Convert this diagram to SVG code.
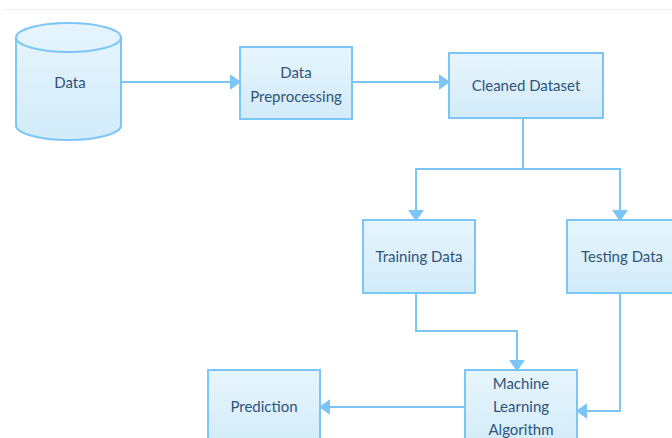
<svg xmlns="http://www.w3.org/2000/svg" width="672" height="438" viewBox="0 0 672 438">
<defs>
<linearGradient id="g" x1="0" y1="0" x2="0" y2="1">
<stop offset="0" stop-color="#e6f5fc"/>
<stop offset="1" stop-color="#d3ebfa"/>
</linearGradient>
<marker id="ah" markerWidth="11" markerHeight="16" refX="10" refY="8" orient="auto" markerUnits="userSpaceOnUse">
<path d="M0,1 L10,8 L0,15 Z" fill="#7cc5f7" stroke="#7cc5f7" stroke-width="1.5" stroke-linejoin="round"/>
</marker>
<style>
.n{fill:url(#g);stroke:#7cc5f7;stroke-width:2}
.c{fill:none;stroke:#7cc5f7;stroke-width:2;marker-end:url(#ah)}
.t{font-family:Lato,"Liberation Sans",sans-serif;font-size:15px;fill:#2f5479;text-anchor:middle}
</style>
</defs>
<rect width="672" height="438" fill="#ffffff"/>
<line x1="3" y1="9.5" x2="672" y2="9.5" stroke="#eef0f3" stroke-width="1"/>
<g id="connectors">
<path class="c" d="M121,82 H240"/>
<path class="c" d="M352,82 H449"/>
<path class="c" d="M523,119 V169 H416 V220"/>
<path class="c" d="M523,169 H620 V220"/>
<path class="c" d="M416,293 V331 H517 V370"/>
<path class="c" d="M620,293 V411 H577"/>
<path class="c" d="M465,407 H320"/>
</g>
<g id="data">
<path class="n" d="M16,37.5 V125.5 A52.5,14.5 0 0 0 121,125.5 V37.5 A52.5,14.5 0 0 0 16,37.5 Z"/>
<path d="M16,37.5 A52.5,14.5 0 0 0 121,37.5" fill="none" stroke="#7cc5f7" stroke-width="2"/>
<text class="t" x="70" y="88">Data</text>
</g>
<g id="preprocessing">
<rect class="n" x="240" y="47" width="112" height="72"/>
<text class="t" x="296" y="78">Data</text>
<text class="t" x="296" y="102">Preprocessing</text>
</g>
<g id="cleaned">
<rect class="n" x="449" y="53" width="154" height="65"/>
<text class="t" x="526" y="91">Cleaned Dataset</text>
</g>
<g id="training">
<rect class="n" x="363" y="220" width="112" height="73"/>
<text class="t" x="419" y="262">Training Data</text>
</g>
<g id="testing">
<rect class="n" x="567" y="220" width="112" height="73"/>
<text class="t" x="622" y="262">Testing Data</text>
</g>
<g id="ml">
<rect class="n" x="465" y="370" width="112" height="80"/>
<text class="t" x="521" y="389">Machine</text>
<text class="t" x="521" y="412">Learning</text>
<text class="t" x="521" y="435">Algorithm</text>
</g>
<g id="prediction">
<rect class="n" x="208" y="370" width="112" height="80"/>
<text class="t" x="264" y="412">Prediction</text>
</g>
</svg>
